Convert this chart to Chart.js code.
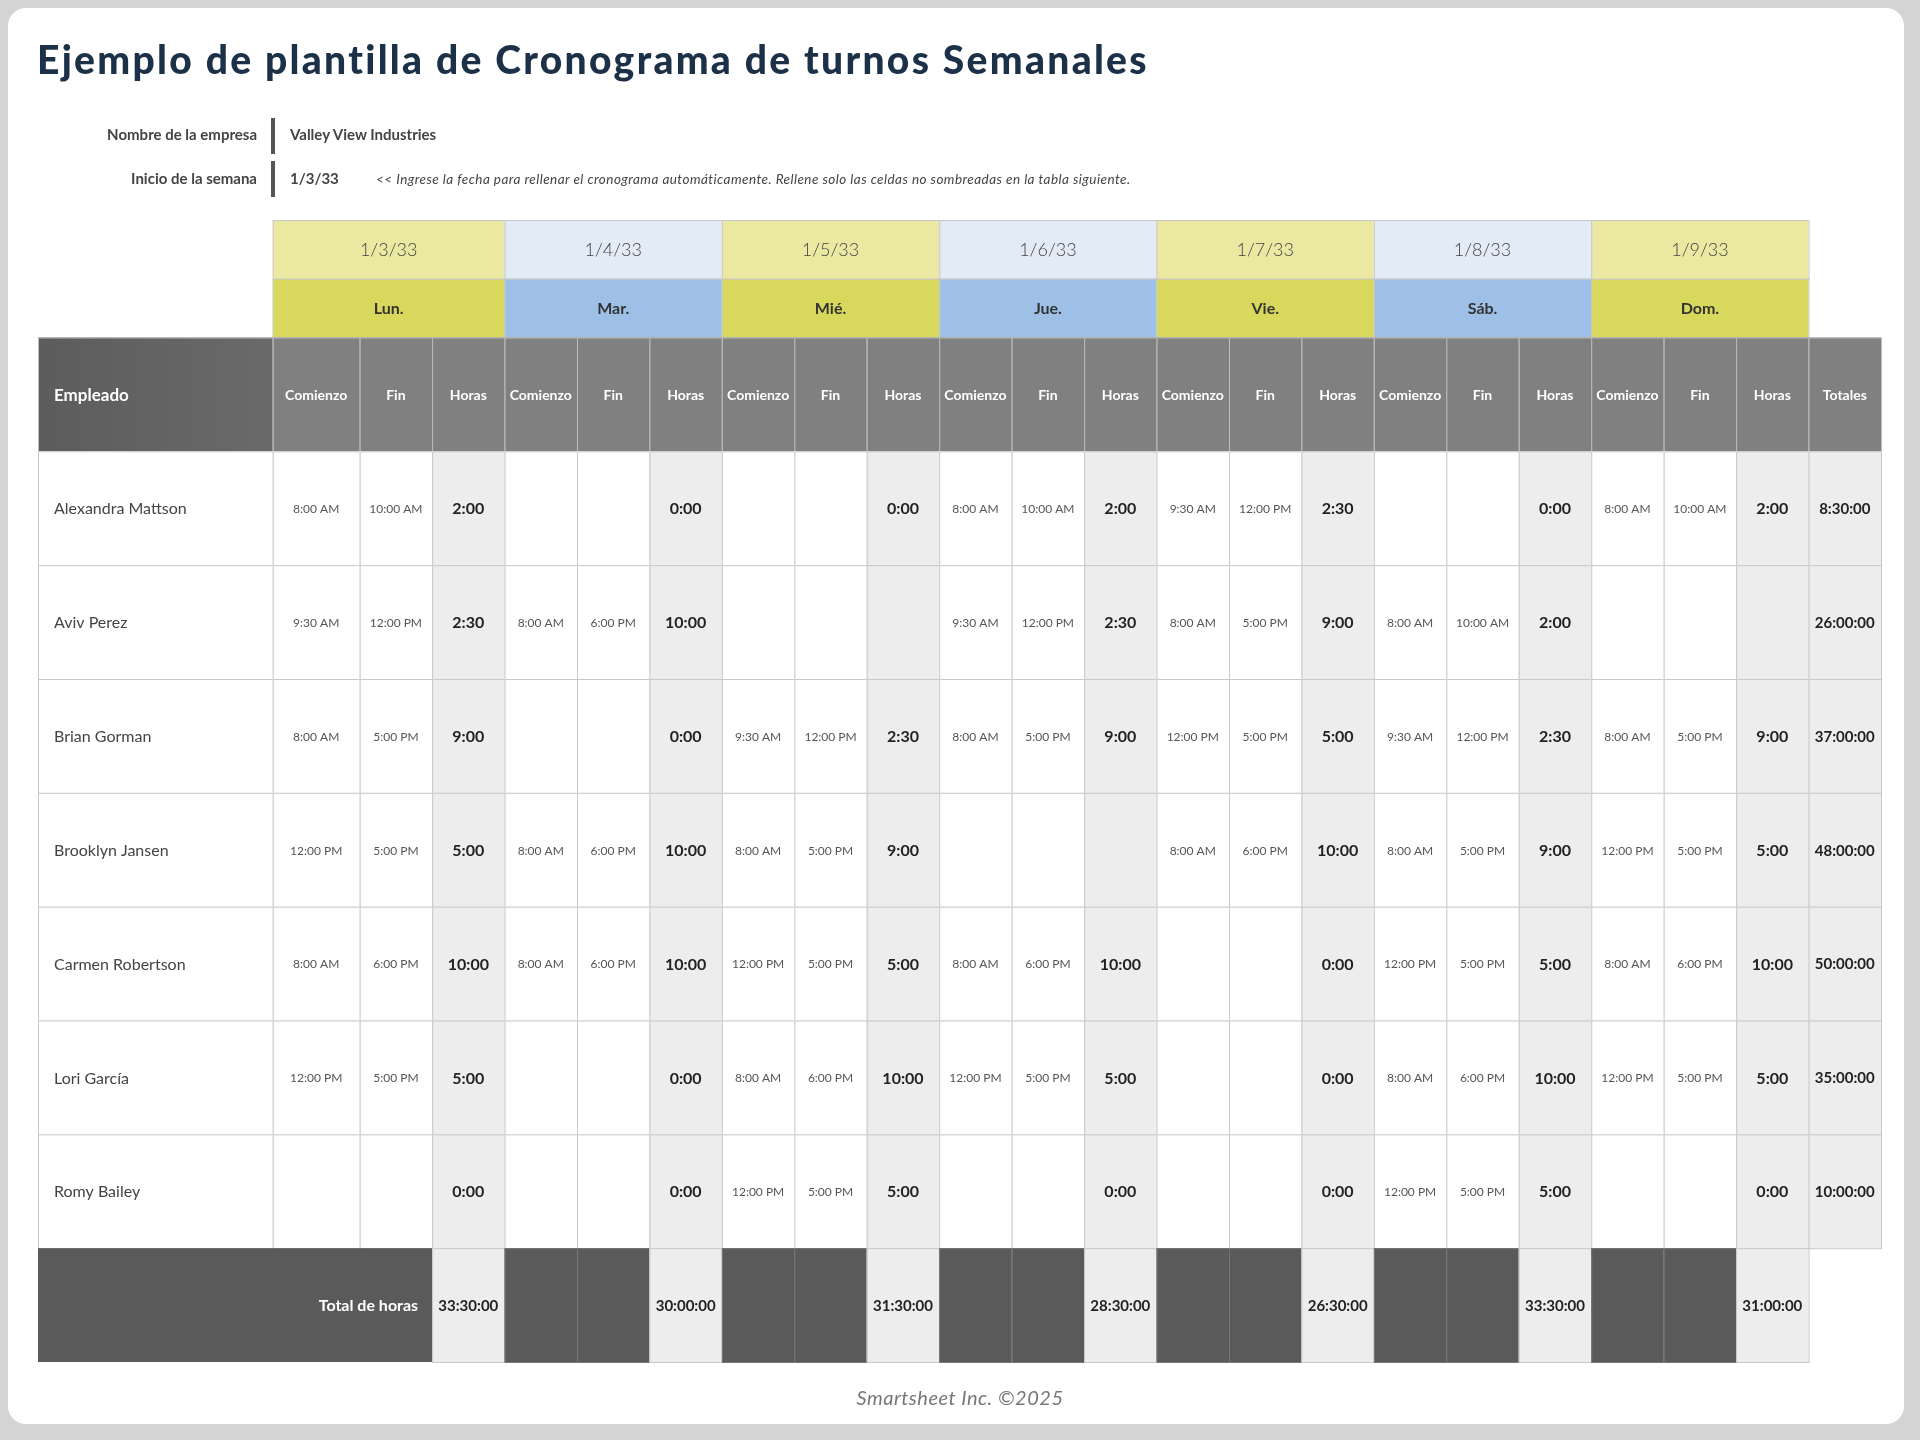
<!DOCTYPE html>
<html><head><meta charset="utf-8">
<script src="https://cdn.jsdelivr.net/npm/chart.js@4"></script>
<style>
html,body{margin:0;padding:0;background:#d4d4d4;}
#page{position:absolute;left:4px;top:4px;width:1904px;height:1424px;background:#fff;border:4px solid #d4d4d4;border-radius:22px;box-sizing:border-box;overflow:hidden;font-family:Lato,"Open Sans",sans-serif;}
#wrap{position:absolute;left:-8px;top:-8px;width:1920px;height:1440px;}
.t{position:absolute;white-space:nowrap;}
</style></head><body>
<div id="page"><div id="wrap">
<canvas id="c" width="1920" height="1440"></canvas>
<div class="t" style="left:37px;top:36px;font-size:39px;font-weight:900;letter-spacing:2.3px;color:#1c3048;">Ejemplo de plantilla de Cronograma de turnos Semanales</div>
<div class="t" style="right:1663px;top:125px;font-size:15px;font-weight:700;color:#444;">Nombre de la empresa</div>
<div class="t" style="right:1663px;top:169px;font-size:15px;font-weight:700;color:#444;">Inicio de la semana</div>
<div style="position:absolute;left:271px;top:118px;width:4px;height:36px;background:#555;"></div>
<div style="position:absolute;left:271px;top:161px;width:4px;height:36px;background:#555;"></div>
<div class="t" style="left:290px;top:125px;font-size:15px;font-weight:700;color:#444;">Valley View Industries</div>
<div class="t" style="left:290px;top:169px;font-size:15px;font-weight:700;color:#444;">1/3/33</div>
<div class="t" style="left:376px;top:171px;font-size:13.5px;font-style:italic;letter-spacing:0.45px;color:#444;">&lt;&lt; Ingrese la fecha para rellenar el cronograma automáticamente. Rellene solo las celdas no sombreadas en la tabla siguiente.</div>
<div class="t" style="left:0;width:1920px;text-align:center;top:1385px;font-size:20px;font-style:italic;letter-spacing:0.5px;color:#777;">Smartsheet Inc. ©2025</div>
</div></div>
<script>
const dates=['1/3/33','1/4/33','1/5/33','1/6/33','1/7/33','1/8/33','1/9/33'];
const days=['Lun.','Mar.','Mié.','Jue.','Vie.','Sáb.','Dom.'];
const employees=['Alexandra Mattson','Aviv Perez','Brian Gorman','Brooklyn Jansen','Carmen Robertson','Lori García','Romy Bailey'];
const starts=[
['8:00 AM','','','8:00 AM','9:30 AM','','8:00 AM'],
['9:30 AM','8:00 AM','','9:30 AM','8:00 AM','8:00 AM',''],
['8:00 AM','','9:30 AM','8:00 AM','12:00 PM','9:30 AM','8:00 AM'],
['12:00 PM','8:00 AM','8:00 AM','','8:00 AM','8:00 AM','12:00 PM'],
['8:00 AM','8:00 AM','12:00 PM','8:00 AM','','12:00 PM','8:00 AM'],
['12:00 PM','','8:00 AM','12:00 PM','','8:00 AM','12:00 PM'],
['','','12:00 PM','','','12:00 PM','']];
const ends=[
['10:00 AM','','','10:00 AM','12:00 PM','','10:00 AM'],
['12:00 PM','6:00 PM','','12:00 PM','5:00 PM','10:00 AM',''],
['5:00 PM','','12:00 PM','5:00 PM','5:00 PM','12:00 PM','5:00 PM'],
['5:00 PM','6:00 PM','5:00 PM','','6:00 PM','5:00 PM','5:00 PM'],
['6:00 PM','6:00 PM','5:00 PM','6:00 PM','','5:00 PM','6:00 PM'],
['5:00 PM','','6:00 PM','5:00 PM','','6:00 PM','5:00 PM'],
['','','5:00 PM','','','5:00 PM','']];
const hours=[
['2:00','0:00','0:00','2:00','2:30','0:00','2:00'],
['2:30','10:00','','2:30','9:00','2:00',''],
['9:00','0:00','2:30','9:00','5:00','2:30','9:00'],
['5:00','10:00','9:00','','10:00','9:00','5:00'],
['10:00','10:00','5:00','10:00','0:00','5:00','10:00'],
['5:00','0:00','10:00','5:00','0:00','10:00','5:00'],
['0:00','0:00','5:00','0:00','0:00','5:00','0:00']];
const totals=['8:30:00','26:00:00','37:00:00','48:00:00','50:00:00','35:00:00','10:00:00'];
const dayTotals=['33:30:00','30:00:00','31:30:00','28:30:00','26:30:00','33:30:00','31:00:00'];
const subHeads=['Comienzo','Fin','Horas'];

const EW=3.24, RD=0.516, LX=0.2;
// start of day d subcolumn k (Lun Comienzo is wider)
const cs=(d,k)=>(d===0&&k===0)?EW:EW+d*3+k+LX;
const plugin={id:'grid',afterDraw(ch){
 const c=ch.ctx,xs=ch.scales.x,ys=ch.scales.y;
 const X=u=>xs.getPixelForValue(u),Y=u=>ys.getPixelForValue(u);
 const F='Lato, "Open Sans", sans-serif';
 function cell(x0,x1,y0,y1,fill,stroke,txt,font,col,align){
  const a=X(x0),b=X(x1),t=Y(y0),d=Y(y1);
  if(fill){c.fillStyle=fill;c.fillRect(a,t,b-a,d-t);}
  if(stroke){c.strokeStyle=stroke;c.lineWidth=1;c.strokeRect(a+.5,t+.5,b-a,d-t);}
  if(txt){c.font=font;c.fillStyle=col;c.textBaseline='middle';
   let tx=(a+b)/2;c.textAlign='center';
   if(align==='left'){tx=a+16;c.textAlign='left';}
   if(align==='right'){tx=b-14;c.textAlign='right';}
   c.fillText(txt,tx,(t+d)/2+1);}
 }
 for(let d=0;d<7;d++){
  const x0=cs(d,0),x1=cs(d+1,0),alt=d%2===0;
  cell(x0,x1,0,RD,alt?'#ebe8a2':'#e3ebf6','#c9c9c9',dates[d],'300 18px '+F,'#444');
  cell(x0,x1,RD,2*RD,alt?'#d8d95c':'#9ec0e7','#c9c9c9',days[d],'bold 16px '+F,'#333');
 }
 const h0=2*RD,h1=h0+1;
 const g=c.createLinearGradient(X(0),0,X(EW),0);g.addColorStop(0,'#5c5c5c');g.addColorStop(1,'#6a6a6a');
 cell(0,EW,h0,h1,g,'#bdbdbd','Empleado','bold 17px '+F,'#fff','left');
 for(let d=0;d<7;d++)for(let k=0;k<3;k++)
  cell(cs(d,k),cs(d,k+1),h0,h1,'#808080','#bdbdbd',subHeads[k],'bold 14px '+F,'#fff');
 const TX=cs(7,0);
 cell(TX,TX+1,h0,h1,'#808080','#bdbdbd','Totales','bold 14px '+F,'#fff');
 for(let i=0;i<employees.length;i++){
  const y0=h1+i,y1=y0+1;
  cell(0,EW,y0,y1,'#fff','#c9c9c9',employees[i],'16px '+F,'#444','left');
  for(let d=0;d<7;d++){
   cell(cs(d,0),cs(d,1),y0,y1,'#fff','#c9c9c9',starts[i][d],'12px '+F,'#555');
   cell(cs(d,1),cs(d,2),y0,y1,'#fff','#c9c9c9',ends[i][d],'12px '+F,'#555');
   cell(cs(d,2),cs(d,3),y0,y1,'#ededed','#c9c9c9',hours[i][d],'bold 16px '+F,'#222');
  }
  cell(TX,TX+1,y0,y1,'#ededed','#c9c9c9',totals[i],'bold 15px '+F,'#222');
 }
 const t0=h1+employees.length,t1=t0+1;
 cell(0,cs(0,2),t0,t1,'#5a5a5a',null,'Total de horas','bold 16px '+F,'#fff','right');
 for(let d=0;d<7;d++){
  if(d>0){cell(cs(d,0),cs(d,1),t0,t1,'#5a5a5a','#777');cell(cs(d,1),cs(d,2),t0,t1,'#5a5a5a','#777');}
  cell(cs(d,2),cs(d,3),t0,t1,'#ededed','#c9c9c9',dayTotals[d],'bold 15px '+F,'#222');
 }
}};
new Chart(document.getElementById('c'),{type:'scatter',data:{datasets:[{data:[]}]},
 options:{responsive:false,animation:false,events:[],
  layout:{padding:{left:38,right:39,top:220,bottom:78}},
  plugins:{legend:{display:false},tooltip:{enabled:false}},
  scales:{x:{type:'linear',min:0,max:EW+22+LX,display:false},
          y:{type:'linear',min:0,max:2*RD+9,reverse:true,display:false}}},
 plugins:[plugin]});
</script></body></html>
